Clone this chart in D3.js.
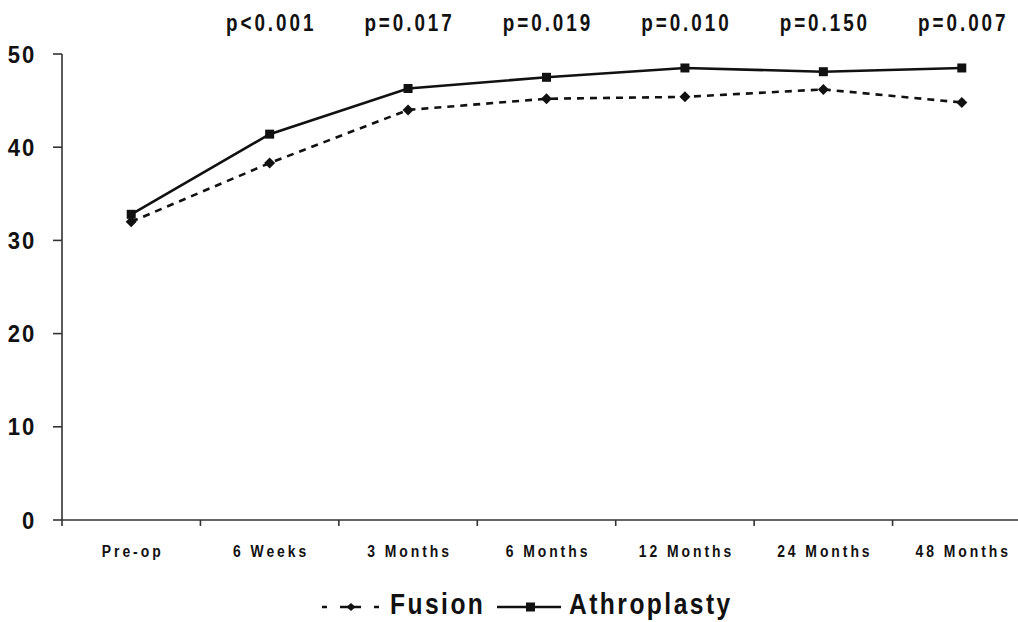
<!DOCTYPE html>
<html><head><meta charset="utf-8">
<script src="https://cdn.jsdelivr.net/npm/d3@7"></script>
<style>
html,body{margin:0;padding:0;background:#fff;}
svg{display:block;}
text{font-family:"Liberation Sans",Arial,sans-serif;font-weight:bold;fill:#111;}
</style></head>
<body><svg id="c" width="1018" height="622"></svg>
<script>
const categories = ["Pre-op","6 Weeks","3 Months","6 Months","12 Months","24 Months","48 Months"];
const fusion = [32.0, 38.3, 44.0, 45.2, 45.4, 46.2, 44.8];
const athroplasty = [32.8, 41.4, 46.3, 47.5, 48.5, 48.1, 48.5];
const pValues = [null, "p<0.001", "p=0.017", "p=0.019", "p=0.010", "p=0.150", "p=0.007"];
const yTicks = [0, 10, 20, 30, 40, 50];

const svg = d3.select("#c");
const x = d3.scaleBand().domain(categories).range([62, 1031]);
const y = d3.scaleLinear().domain([0, 50]).range([520, 54]);
const cx = d => x(d) + x.bandwidth() / 2;
const axisColor = "#333";

function narrowText(px, py, str, size, ls, anchor, sx) {
  const g = svg.append("g").attr("transform", `translate(${px},${py})`);
  g.append("text").attr("transform", `scale(${sx},1)`).attr("text-anchor", anchor)
    .attr("font-size", size).attr("letter-spacing", ls).text(str);
}

// y axis
svg.append("line").attr("x1", 62).attr("x2", 62).attr("y1", y(50)).attr("y2", y(0))
  .attr("stroke", axisColor).attr("stroke-width", 1.6);
yTicks.forEach(t => {
  svg.append("line").attr("x1", 53).attr("x2", 62).attr("y1", y(t)).attr("y2", y(t))
    .attr("stroke", axisColor).attr("stroke-width", 1.6);
  narrowText(36, y(t) + 8.5, String(t), 24, 2, "end", 0.92);
});

// x axis
svg.append("line").attr("x1", 62).attr("x2", 1031).attr("y1", y(0)).attr("y2", y(0))
  .attr("stroke", axisColor).attr("stroke-width", 1.6);
categories.forEach(c => {
  svg.append("line").attr("x1", x(c)).attr("x2", x(c)).attr("y1", y(0)).attr("y2", y(0) + 6)
    .attr("stroke", axisColor).attr("stroke-width", 1.6);
  narrowText(cx(c) + 1.5, 557, c, 17, 3.6, "middle", 0.82);
});

// p values
categories.forEach((c, i) => {
  if (!pValues[i]) return;
  narrowText(cx(c) + 1.5, 31, pValues[i], 23, 3.6, "middle", 0.82);
});

const line = d3.line().x((d, i) => cx(categories[i])).y(d => y(d));

// fusion (dashed, diamonds)
svg.append("path").datum(fusion).attr("d", line).attr("fill", "none")
  .attr("stroke", "#111").attr("stroke-width", 2.6).attr("stroke-dasharray", "7,6");
const diamondPath = "M0,-5.5L5.5,0L0,5.5L-5.5,0Z";
svg.selectAll(".fd").data(fusion).enter().append("path")
  .attr("transform", (d, i) => `translate(${cx(categories[i])},${y(d)})`)
  .attr("d", diamondPath).attr("fill", "#111");

// athroplasty (solid, squares)
svg.append("path").datum(athroplasty).attr("d", line).attr("fill", "none")
  .attr("stroke", "#111").attr("stroke-width", 2.6);
svg.selectAll(".as").data(athroplasty).enter().append("rect")
  .attr("x", (d, i) => cx(categories[i]) - 4.5).attr("y", d => y(d) - 4.5)
  .attr("width", 9).attr("height", 9).attr("fill", "#111");

// legend
const ly = 607;
svg.append("line").attr("x1", 322).attr("x2", 379).attr("y1", ly).attr("y2", ly)
  .attr("stroke", "#111").attr("stroke-width", 2.4).attr("stroke-dasharray", "5,13,21,13,5");
svg.append("path").attr("transform", `translate(351,${ly})`).attr("d", "M0,-4L4.5,0L0,4L-4.5,0Z").attr("fill", "#111");
narrowText(390, 614, "Fusion", 30, 3, "start", 0.82);
svg.append("line").attr("x1", 497).attr("x2", 561).attr("y1", ly).attr("y2", ly)
  .attr("stroke", "#111").attr("stroke-width", 2.4);
svg.append("rect").attr("x", 526).attr("y", ly - 4.5).attr("width", 9).attr("height", 9).attr("fill", "#111");
narrowText(569, 614, "Athroplasty", 30, 3, "start", 0.82);
</script></body></html>
